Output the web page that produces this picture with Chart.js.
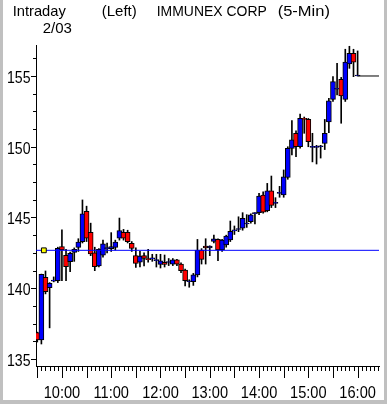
<!DOCTYPE html>
<html>
<head>
<meta charset="utf-8">
<script src="https://cdn.jsdelivr.net/npm/chart.js@4.4.1/dist/chart.umd.min.js"></script>
<style>
  html, body { margin: 0; padding: 0; }
  body { width: 387px; height: 404px; background: #c0c0c0; position: relative; overflow: hidden; }
  #wrap { position: absolute; left: 3px; top: 0; width: 381px; height: 400px; background: #fff; }
</style>
</head>
<body>
<div id="wrap"><canvas id="chart" width="381" height="400"></canvas></div>
<script>
// 5-minute bars, 9:30 .. 16:00
const times = [
  '9:30','9:35','9:40','9:45','9:50','9:55','10:00','10:05','10:10','10:15',
  '10:20','10:25','10:30','10:35','10:40','10:45','10:50','10:55','11:00','11:05',
  '11:10','11:15','11:20','11:25','11:30','11:35','11:40','11:45','11:50','11:55',
  '12:00','12:05','12:10','12:15','12:20','12:25','12:30','12:35','12:40','12:45',
  '12:50','12:55','13:00','13:05','13:10','13:15','13:20','13:25','13:30','13:35',
  '13:40','13:45','13:50','13:55','14:00','14:05','14:10','14:15','14:20','14:25',
  '14:30','14:35','14:40','14:45','14:50','14:55','15:00','15:05','15:10','15:15',
  '15:20','15:25','15:30','15:35','15:40','15:45','15:50','15:55','16:00'
];
const opens = [
  136.86, 136.34, 140.77, 140.04, 140.50, 140.53, 142.94, 142.33, 141.88, 142.54,
  142.89, 143.29, 145.44, 143.95, 142.51, 141.57, 142.33, 142.80, 142.80, 142.89,
  143.53, 143.95, 143.95, 143.17, 142.30, 141.85, 142.30, 142.06, 142.07, 141.95,
  141.69, 141.83, 141.82, 141.71, 142.00, 141.71, 141.29, 140.46, 140.46, 140.94,
  142.70, 142.98, 142.85, 143.31, 143.45, 142.70, 143.06, 143.41, 144.05, 144.15,
  144.24, 144.54, 144.70, 145.27, 145.34, 146.59, 145.48, 146.89, 146.00, 146.71,
  146.59, 147.84, 149.89, 150.95, 150.00, 152.00, 151.93, 149.96, 149.95, 150.00,
  150.24, 151.75, 153.35, 154.06, 154.77, 153.35, 155.85, 156.60, 155.00
];
const highs = [
  136.90, 141.00, 141.22, 140.40, 140.80, 142.90, 144.12, 142.75, 142.55, 142.85,
  143.50, 146.24, 145.80, 144.60, 142.90, 142.80, 143.40, 143.20, 143.93, 143.40,
  144.96, 144.16, 144.10, 143.30, 142.85, 142.60, 142.50, 142.75, 142.40, 142.40,
  142.40, 142.35, 142.10, 142.10, 142.05, 141.80, 141.35, 140.60, 141.05, 143.45,
  142.80, 143.50, 143.00, 143.76, 143.50, 143.45, 143.75, 144.75, 144.40, 145.05,
  145.34, 145.20, 145.25, 145.35, 146.70, 146.82, 147.41, 147.93, 146.40, 147.20,
  148.36, 150.00, 151.84, 151.13, 152.31, 152.10, 152.00, 150.95, 150.10, 150.10,
  151.93, 153.42, 154.95, 155.89, 154.90, 156.89, 157.10, 156.89, 156.77
];
const lows = [
  136.20, 136.06, 139.60, 137.20, 140.45, 140.40, 140.53, 140.53, 141.17, 141.90,
  142.60, 143.20, 143.30, 142.30, 141.24, 141.50, 142.20, 142.50, 142.60, 142.70,
  143.40, 143.40, 143.20, 142.60, 141.48, 141.50, 141.57, 141.85, 141.90, 141.50,
  141.43, 141.50, 141.60, 141.60, 141.60, 141.10, 140.16, 140.07, 140.20, 140.80,
  141.71, 141.71, 142.30, 143.20, 141.95, 142.60, 142.90, 143.30, 143.80, 144.00,
  144.10, 144.30, 144.60, 144.55, 145.20, 145.30, 145.40, 145.70, 145.70, 146.43,
  146.43, 147.70, 149.42, 149.30, 149.90, 150.95, 150.00, 148.93, 148.78, 149.20,
  149.80, 151.00, 153.20, 153.66, 151.66, 153.20, 155.54, 154.95, 155.00
];
const closes = [
  136.34, 140.99, 139.76, 140.35, 140.58, 142.82, 142.70, 141.52, 142.46, 142.75,
  143.27, 145.25, 143.53, 142.42, 141.52, 142.75, 143.13, 142.85, 142.95, 143.27,
  144.07, 143.53, 143.29, 142.82, 141.76, 142.28, 142.11, 142.02, 142.10, 141.95,
  141.93, 141.69, 141.82, 142.00, 141.71, 141.24, 140.53, 140.46, 140.94, 142.70,
  142.04, 142.85, 142.98, 143.50, 142.70, 143.41, 143.69, 144.02, 144.05, 144.15,
  144.94, 144.54, 145.18, 145.27, 146.52, 145.37, 146.89, 145.86, 146.00, 146.71,
  147.88, 149.89, 150.48, 150.00, 152.00, 151.93, 150.35, 149.96, 149.95, 150.00,
  150.95, 153.25, 154.60, 154.06, 153.59, 155.99, 156.60, 155.97, 155.00
];
const prevClose = 142.68;
const prevCloseMarkTime = '9:38';

const hourLabels = ['10:00', '11:00', '12:00', '13:00', '14:00', '15:00', '16:00'];
const yTickValues = [135, 136.25, 137.5, 138.75, 140, 141.25, 142.5, 143.75, 145,
  146.25, 147.5, 148.75, 150, 151.25, 152.5, 153.75, 155, 156.25];
const yLabelValues = [135, 140, 145, 150, 155];

const toMin = t => { const [h, m] = t.split(':').map(Number); return h * 60 + m; };
const xMin = 568.44, xMax = 986.04;
const yMin = 134.505, yMax = 157.19;

const BLUE = '#0000ff', RED = '#ff0000';
const labelFont = "16.8px 'Liberation Sans', Arial, sans-serif";
const titleFont = "15px 'Liberation Sans', Arial, sans-serif";

const wickData = times.map((t, i) => ({ x: toMin(t), y: [lows[i], highs[i]] }));
const bodyData = times.map((t, i) => ({ x: toMin(t), y: [opens[i], closes[i]] }));
const bodyColors = times.map((t, i) => closes[i] >= opens[i] ? BLUE : RED);
const lastTime = toMin(times[times.length - 1]);
const lastClose = closes[closes.length - 1];

// squeezed text, the original uses a narrow bitmap font
function narrowText(ctx, text, x, y, align, squeeze) {
  ctx.save();
  ctx.translate(x, y);
  ctx.scale(squeeze, 1);
  ctx.textAlign = align;
  ctx.fillText(text, 0, 0);
  ctx.restore();
}

// tick marks, axis labels and header text
const decorations = {
  id: 'decorations',
  afterDraw(chart) {
    const ctx = chart.ctx, xs = chart.scales.x, ys = chart.scales.y, area = chart.chartArea;
    ctx.save();
    ctx.strokeStyle = '#000';
    ctx.lineWidth = 1;
    ctx.beginPath();
    for (let m = toMin(times[0]); m <= xs.max; m += 5) {
      const px = Math.round(xs.getPixelForValue(m)) + 0.5;
      const len = m % 30 === 0 ? 12 : 5;
      ctx.moveTo(px, area.bottom);
      ctx.lineTo(px, area.bottom + len);
    }
    yTickValues.forEach(v => {
      const py = Math.round(ys.getPixelForValue(v)) + 0.5;
      const len = yLabelValues.includes(v) ? 5 : 3;
      ctx.moveTo(area.left - len, py);
      ctx.lineTo(area.left, py);
    });
    ctx.stroke();

    ctx.fillStyle = '#000';
    ctx.textBaseline = 'alphabetic';
    ctx.font = labelFont;
    hourLabels.forEach(l => {
      narrowText(ctx, l, xs.getPixelForValue(toMin(l)), 398, 'center', 0.87);
    });
    yLabelValues.forEach(v => {
      narrowText(ctx, String(v), area.left - 5.5, Math.round(ys.getPixelForValue(v)) + 6.5, 'right', 0.84);
    });

    ctx.font = titleFont;
    narrowText(ctx, 'Intraday', 9.7, 15.7, 'left', 0.98);
    narrowText(ctx, '(Left)', 98.7, 15.7, 'left', 1);
    narrowText(ctx, 'IMMUNEX CORP', 153.7, 15.7, 'left', 0.93);
    narrowText(ctx, '(5-Min)', 274.7, 15.7, 'left', 1.1);
    narrowText(ctx, '2/03', 39.7, 33.3, 'left', 1);
    ctx.restore();
  }
};

new Chart(document.getElementById('chart'), {
  type: 'bar',
  data: {
    datasets: [
      {
        label: 'range',
        data: wickData,
        backgroundColor: '#000',
        borderWidth: 0,
        barThickness: 1,
        grouped: false,
        order: 4
      },
      {
        label: 'body',
        data: bodyData,
        backgroundColor: bodyColors,
        borderColor: '#000',
        borderWidth: 1,
        borderSkipped: false,
        barThickness: 5,
        minBarLength: 1,
        grouped: false,
        order: 3
      },
      {
        type: 'line',
        label: 'last',
        data: [{ x: lastTime, y: lastClose }, { x: xMax, y: lastClose }],
        borderColor: '#000',
        borderWidth: 1,
        pointRadius: 0,
        order: 2
      },
      {
        type: 'line',
        label: 'prev close',
        data: [{ x: xMin, y: prevClose }, { x: xMax, y: prevClose }],
        borderColor: BLUE,
        borderWidth: 1,
        pointRadius: 0,
        order: 1
      },
      {
        type: 'line',
        label: 'mark',
        data: [{ x: toMin(prevCloseMarkTime), y: prevClose }],
        showLine: false,
        pointStyle: 'rect',
        pointRadius: 3.4,
        pointBackgroundColor: '#ffff00',
        pointBorderColor: '#000',
        pointBorderWidth: 1,
        order: 0
      }
    ]
  },
  options: {
    responsive: false,
    animation: false,
    events: [],
    layout: { padding: { top: 45, right: 0, left: 0, bottom: 0 } },
    plugins: { legend: { display: false }, tooltip: { enabled: false } },
    scales: {
      x: {
        type: 'linear',
        min: xMin,
        max: xMax,
        offset: false,
        grid: { display: false, drawTicks: false },
        border: { color: '#000', width: 1 },
        afterBuildTicks: s => { s.ticks = hourLabels.map(l => ({ value: toMin(l) })); },
        afterFit: s => { s.height = 34; },
        ticks: { display: false }
      },
      y: {
        type: 'linear',
        min: yMin,
        max: yMax,
        grid: { display: false, drawTicks: false },
        border: { color: '#000', width: 1 },
        afterBuildTicks: s => { s.ticks = yTickValues.map(v => ({ value: v })); },
        afterFit: s => { s.width = 33; },
        ticks: { display: false }
      }
    }
  },
  plugins: [decorations]
});
</script>
</body>
</html>
